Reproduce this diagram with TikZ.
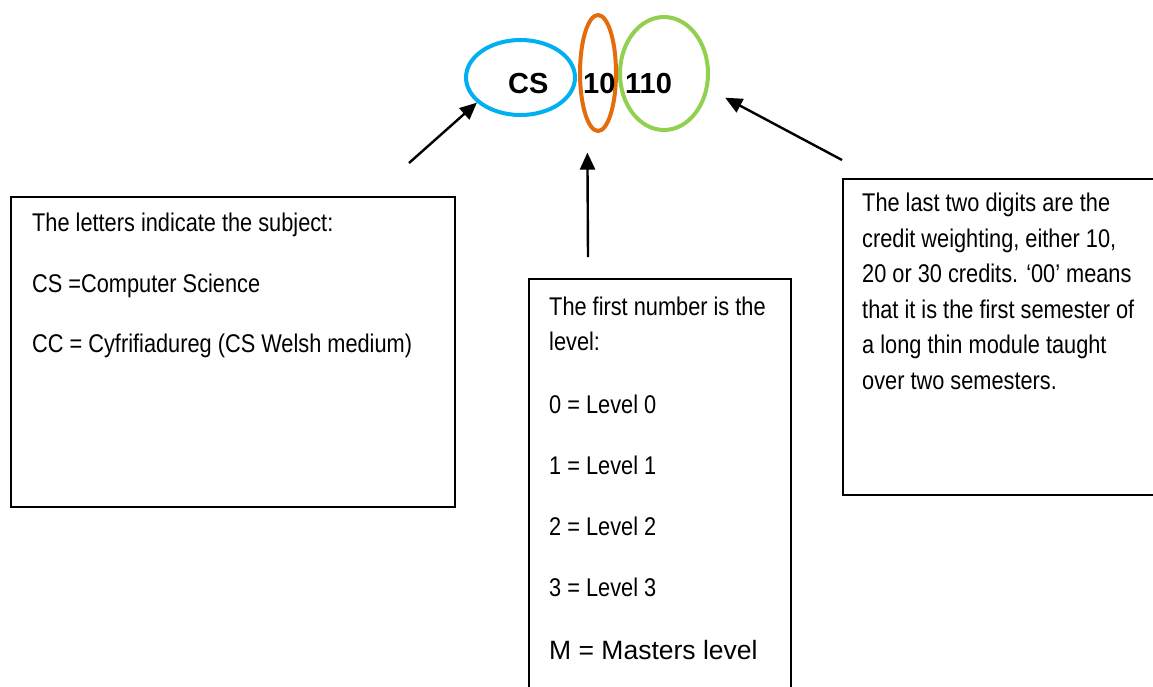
\documentclass[tikz,border=0pt]{standalone}
\usepackage{fontspec}
\setmainfont{Liberation Sans}
\newfontfamily\narrowsans{Liberation Sans}[FakeStretch=0.85]
\usetikzlibrary{shapes.geometric,arrows.meta}
\definecolor{csblue}{RGB}{0,176,240}
\definecolor{lvlorange}{RGB}{228,108,10}
\definecolor{credgreen}{RGB}{146,208,80}
\tikzset{
    ring/.style={ellipse,draw,line width=4pt,inner sep=0pt},
    codetext/.style={anchor=base west,inner sep=0pt,font=\fontsize{29}{29}\selectfont\bfseries},
    frame/.style={draw,line width=1.5pt,anchor=north west,inner sep=0pt},
    note/.style={anchor=base west,inner sep=0pt,align=left,font=\narrowsans\fontsize{25.6}{35.5}\selectfont},
    pointer/.style={line width=2.4pt,-{Triangle[length=17pt,width=15pt]}}
}

\begin{document}
\begin{tikzpicture}[x=1pt,y=-1pt]
    \clip (0,0) rectangle (1153,686);
    \node[ring,csblue,minimum width=109,minimum height=75] (cs) at (520.5,77.5) {};
    \node[ring,lvlorange,minimum width=36,minimum height=116] (lvl) at (598,73) {};
    \node[ring,credgreen,minimum width=88,minimum height=113] (cred) at (664,73.5) {};
    \node[codetext] (csword) at (508,93) {CS};
    \node[codetext] (lvlword) at (583,93) {10};
    \node[codetext] (credword) at (625,93) {110};

    \node[frame,minimum width=444,minimum height=310] (letterbox) at (10,196) {};
    \node[frame,minimum width=262,minimum height=450] (levelbox) at (528,278) {};
    \node[frame,minimum width=350,minimum height=316] (creditbox) at (842,178) {};

    \node[note] (lettertext) at (32,352) {The letters indicate the subject:\\[25.5pt]
        CS =Computer Science\\[24.5pt]
        CC = Cyfrifiadureg (CS Welsh medium)};
    \node[note] (leveltext) at (549,659) {The first number is the\\
        level:\\[27pt]
        0 = Level 0\\[25.5pt]
        1 = Level 1\\[25.5pt]
        2 = Level 2\\[26pt]
        3 = Level 3\\[27pt]
        {\rmfamily\fontsize{26.5}{35.5}\selectfont M = Masters level}};
    \node[note] (credittext) at (862,389) {The last two digits are the\\
        credit weighting, either 10,\\
        20 or 30 credits. ‘00’ means\\
        that it is the first semester of\\
        a long thin module taught\\
        over two semesters.};

    \coordinate (lettertail) at (409,163);
    \coordinate (leveltail) at (588,257);
    \coordinate (credittail) at (842,160);
    \draw[pointer] (lettertail) -- (cs.-150);
    \draw[pointer,shorten >=29pt] (leveltail) -- (lvl.-102);
    \draw[pointer,shorten >=19pt] (credittail) -- (cred.-19);
\end{tikzpicture}
\end{document}
